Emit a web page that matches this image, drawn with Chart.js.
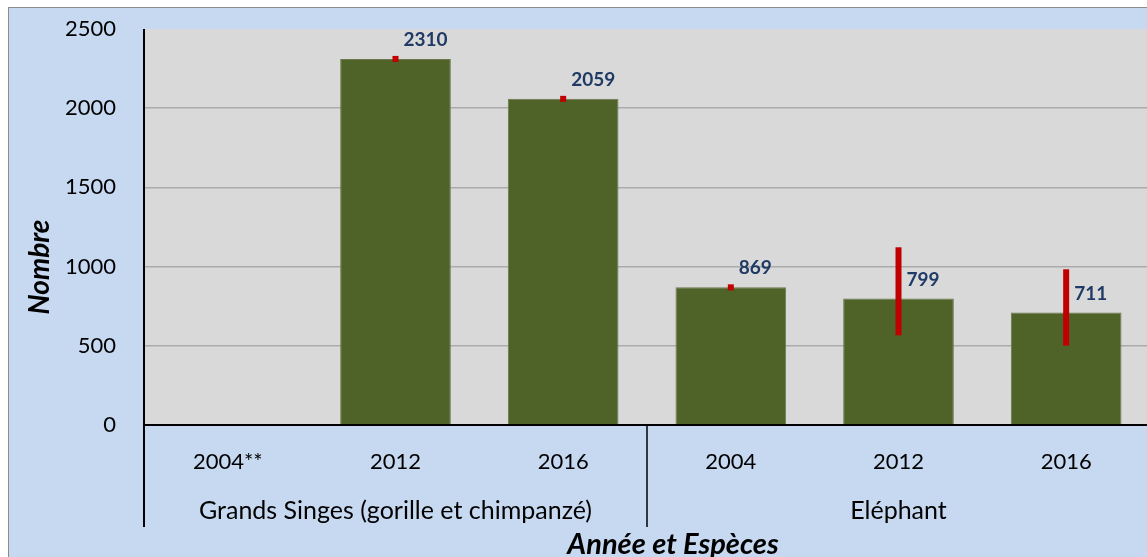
<!DOCTYPE html>
<html>
<head>
<meta charset="utf-8">
<script src="https://cdn.jsdelivr.net/npm/chart.js@4"></script>
<style>
  body { margin: 0; overflow: hidden; background: #ffffff; width: 1147px; height: 557px; position: relative; }
  #bg { position: absolute; left: 8px; top: 7px; width: 1160px; height: 570px; background: #c6d9f1; border: 1px solid #8c8c8c; }
  #wrap { position: absolute; left: 0; top: 0; width: 1150px; height: 557px; }
</style>
</head>
<body>
<div id="bg"></div>
<div id="wrap"><canvas id="chart" width="1150" height="557"></canvas></div>
<script>
// Chart data
const years = ['2004**', '2012', '2016', '2004', '2012', '2016'];
const groupLabels = ['Grands Singes (gorille et chimpanzé)', 'Eléphant'];
const groupSizes = [3, 3];
const counts = [null, 2310, 2059, 869, 799, 711];
const errLow = [null, 2292, 2040, 850, 566, 501];
const errHigh = [null, 2330, 2078, 888, 1122, 983];
const yMax = 2500;
const yStep = 500;

const FONT = 'Lato, "Open Sans", sans-serif';

// Extra drawing: plot background, error bars, value labels, axis lines, group labels, titles
const excelLook = {
    id: 'excelLook',
    beforeDraw(chart) {
        const { ctx, chartArea: a } = chart;
        ctx.save();
        ctx.fillStyle = '#d9d9d9';
        ctx.fillRect(a.left, a.top, a.right - a.left, a.bottom - a.top);
        ctx.restore();
    },
    afterDatasetsDraw(chart) {
        const { ctx } = chart;
        const x = chart.scales.x, y = chart.scales.y;
        ctx.save();
        // Error bars
        ctx.strokeStyle = '#c00000';
        ctx.lineWidth = 6;
        counts.forEach((v, i) => {
            if (v === null) return;
            const cx = x.getPixelForValue(i);
            ctx.beginPath();
            ctx.moveTo(cx, y.getPixelForValue(errLow[i]));
            ctx.lineTo(cx, y.getPixelForValue(errHigh[i]));
            ctx.stroke();
        });
        // Value labels
        ctx.fillStyle = '#1f3a64';
        ctx.font = 'bold 19px ' + FONT;
        ctx.textAlign = 'left';
        ctx.textBaseline = 'middle';
        counts.forEach((v, i) => {
            if (v === null) return;
            const cx = x.getPixelForValue(i);
            ctx.fillText(String(v), cx + 8, y.getPixelForValue(v) - 19);
        });
        ctx.restore();
    },
    afterDraw(chart) {
        const { ctx, chartArea: a } = chart;
        const bottom = 527;
        const catW = (a.right - a.left) / years.length;
        ctx.save();
        ctx.strokeStyle = '#000000';
        // y axis line
        ctx.lineWidth = 2;
        ctx.beginPath();
        ctx.moveTo(a.left, a.top);
        ctx.lineTo(a.left, bottom);
        ctx.stroke();
        // x axis line
        ctx.beginPath();
        ctx.moveTo(a.left, a.bottom);
        ctx.lineTo(a.right, a.bottom);
        ctx.stroke();
        // group separators and labels
        ctx.fillStyle = '#000000';
        ctx.font = '25px ' + FONT;
        ctx.textAlign = 'center';
        ctx.textBaseline = 'middle';
        let start = 0;
        groupSizes.forEach((n, g) => {
            const left = a.left + start * catW;
            const right = left + n * catW;
            if (start > 0) {
                ctx.lineWidth = 1.5;
                ctx.beginPath();
                ctx.moveTo(left, a.bottom);
                ctx.lineTo(left, bottom);
                ctx.stroke();
            }
            ctx.fillText(groupLabels[g], (left + right) / 2, 511);
            start += n;
        });
        // axis titles
        ctx.font = 'bold italic 29px ' + FONT;
        ctx.fillText('Année et Espèces', 673, 545);
        ctx.font = 'bold italic 28px ' + FONT;
        ctx.translate(40, 267);
        ctx.rotate(-Math.PI / 2);
        ctx.fillText('Nombre', 0, 0);
        ctx.restore();
    }
};

const chart = new Chart(document.getElementById('chart'), {
    type: 'bar',
    data: {
        labels: years,
        datasets: [{
            data: counts,
            backgroundColor: '#4f6228',
            borderColor: '#6a7a4c',
            borderWidth: 1,
            categoryPercentage: 1,
            barPercentage: 0.66
        }]
    },
    options: {
        responsive: false,
        animation: false,
        events: [],
        layout: { padding: { left: 0, top: 29, right: 0, bottom: 0 } },
        plugins: {
            legend: { display: false },
            tooltip: { enabled: false }
        },
        scales: {
            x: {
                afterFit: s => { s.height = 132; },
                grid: { display: false, drawTicks: false },
                border: { display: false },
                ticks: {
                    autoSkip: false,
                    maxRotation: 0,
                    padding: 24,
                    color: '#000000',
                    font: { family: FONT, size: 22 }
                }
            },
            y: {
                min: 0,
                max: yMax,
                afterFit: s => { s.width = 144; },
                border: { display: false },
                grid: {
                    drawTicks: true,
                    tickLength: 28,
                    tickColor: 'rgba(0,0,0,0)',
                    lineWidth: 1.5,
                    color: c => (c.tick.value === 0 || c.tick.value === yMax) ? 'rgba(0,0,0,0)' : '#ababab'
                },
                ticks: {
                    stepSize: yStep,
                    padding: 0,
                    color: '#000000',
                    font: { family: FONT, size: 22 },
                    callback: v => String(v)
                }
            }
        }
    },
    plugins: [excelLook]
});
</script>
</body>
</html>
